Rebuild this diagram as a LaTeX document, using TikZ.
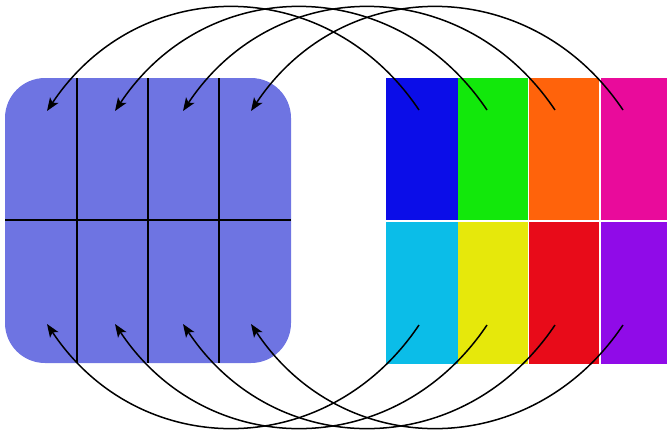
\documentclass[tikz,border=0pt]{standalone}
\usepackage{xcolor}
\usepackage{tikz}
\usetikzlibrary{arrows.meta,calc}

\definecolor{gridfill}{HTML}{6E74E2}
\definecolor{cellA}{HTML}{0B0DE8}
\definecolor{cellB}{HTML}{12E80B}
\definecolor{cellC}{HTML}{FF630B}
\definecolor{cellD}{HTML}{E90B9B}
\definecolor{cellE}{HTML}{0BBDE8}
\definecolor{cellF}{HTML}{E6E80B}
\definecolor{cellG}{HTML}{E80B19}
\definecolor{cellH}{HTML}{900BE8}

\tikzset{
  gridline/.style={line width=2pt, draw=black},
  movearrow/.style={line width=1.5pt, draw=black, -{Stealth[length=13pt,width=10pt,inset=3pt]}}
}

\begin{document}
\begin{tikzpicture}[x=1pt,y=-1pt]
    \useasboundingbox (0,0) rectangle (667,429);
    % target grid
    \fill[gridfill, rounded corners=40pt] (5,78) rectangle (291,363);
    \foreach \gx in {77,148,219}
      \draw[gridline] (\gx,78) -- (\gx,363);
    \draw[gridline] (5,220) -- (291,220);
    % coloured source cells
    \fill[cellA] (386,78) rectangle (458,220);
    \fill[cellB] (458,78) rectangle (528,220);
    \fill[cellC] (529,78) rectangle (599,220);
    \fill[cellD] (601,78) rectangle (667,220);
    \fill[cellE] (386,222) rectangle (458,364);
    \fill[cellF] (458,222) rectangle (528,364);
    \fill[cellG] (529,222) rectangle (599,364);
    \fill[cellH] (601,222) rectangle (667,364);
    % moves
    \foreach \i in {0,...,3} {
      \coordinate (top-src-\i) at ({419+68*\i},110);
      \coordinate (top-dst-\i) at ({47+68*\i},111);
      \coordinate (bot-src-\i) at ({419+68*\i},325);
      \coordinate (bot-dst-\i) at ({47+68*\i},324);
      \draw[movearrow] (top-src-\i) .. controls ($(top-src-\i)+(-92,-137)$) and ($(top-dst-\i)+(92,-138)$) .. (top-dst-\i);
      \draw[movearrow] (bot-src-\i) .. controls ($(bot-src-\i)+(-92,137)$) and ($(bot-dst-\i)+(92,138)$) .. (bot-dst-\i);
    }
  \end{tikzpicture}
\end{document}
